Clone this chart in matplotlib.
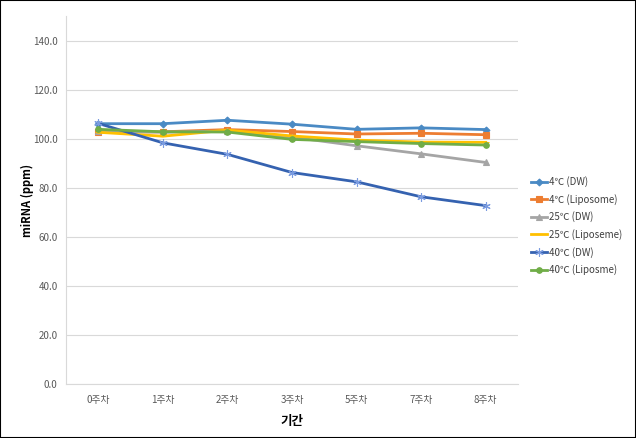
import matplotlib.pyplot as plt
import numpy as np

plt.rcParams['font.family'] = ['Noto Sans CJK KR', 'DejaVu Sans']

weeks = ['0주차', '1주차', '2주차', '3주차', '5주차', '7주차', '8주차']

dw_4 = [106.1, 106.1, 107.5, 105.9, 103.8, 104.4, 103.7]
lipo_4 = [102.6, 102.8, 103.7, 102.9, 101.9, 102.2, 101.6]
dw_25 = [103.2, 102.6, 103.1, 100.6, 97.1, 93.8, 90.3]
lipo_25 = [102.6, 101.0, 103.5, 101.1, 99.4, 98.6, 98.5]
dw_40 = [106.2, 98.3, 93.6, 86.2, 82.4, 76.3, 72.7]
lipo_40 = [103.8, 102.8, 102.7, 99.7, 98.8, 98.0, 97.4]

series = [
    ('4℃ (DW)', dw_4, '#4A8AC4', 'D', 3.5, '#4A8AC4'),
    ('4℃ (Liposome)', lipo_4, '#ED7D31', 's', 4, '#ED7D31'),
    ('25℃ (DW)', dw_25, '#A5A5A5', '^', 4.5, '#A5A5A5'),
    ('25℃ (Liposeme)', lipo_25, '#FFC000', '_', 5, '#FFC000'),
    ('40℃ (DW)', dw_40, '#3562B0', (6, 2, 0), 6, '#7A9BE0'),
    ('40℃ (Liposme)', lipo_40, '#70AD47', 'o', 4, '#70AD47'),
]

fig = plt.figure(figsize=(6.36, 4.38), dpi=100)
ax = fig.add_axes([0.1038, 0.1233, 0.7107, 0.8402])

x = np.arange(len(weeks)) + 0.5
for label, vals, color, marker, ms, mcolor in series:
    ax.plot(x, vals, color=color, lw=2, marker=marker, ms=ms, mew=0.8,
            markerfacecolor=mcolor, markeredgecolor=mcolor, label=label)

ax.set_xlim(0, len(weeks))
ax.set_ylim(0, 150)
ax.set_yticks(np.arange(0, 141, 20))
ax.set_yticklabels([f'{v:.1f}' for v in np.arange(0, 141, 20)])
ax.set_xticks(x)
ax.set_xticklabels(weeks)
ax.tick_params(axis='both', length=0, labelsize=7, colors='#595959', pad=6)
ax.tick_params(axis='x', pad=8)
ax.yaxis.grid(True, color='#D9D9D9', lw=0.8)
ax.set_axisbelow(True)
for side in ['top', 'right']:
    ax.spines[side].set_visible(False)
for side in ['left', 'bottom']:
    ax.spines[side].set_color('#D9D9D9')

ax.set_xlabel('기간', fontsize=9, fontweight='bold', labelpad=7)
ax.set_ylabel('miRNA (ppm)', fontsize=8, fontweight='bold', labelpad=-1)

ax.legend(loc='center left', bbox_to_anchor=(1.01, 0.43), frameon=False,
          fontsize=7, handlelength=1.6, labelspacing=0.68, handletextpad=0.2,
          labelcolor='#404040')

fig.patches.append(plt.Rectangle((0, 0), 1, 1, transform=fig.transFigure,
                                 fill=False, edgecolor='black', lw=1.5))

fig.savefig('out.png', dpi=100)
